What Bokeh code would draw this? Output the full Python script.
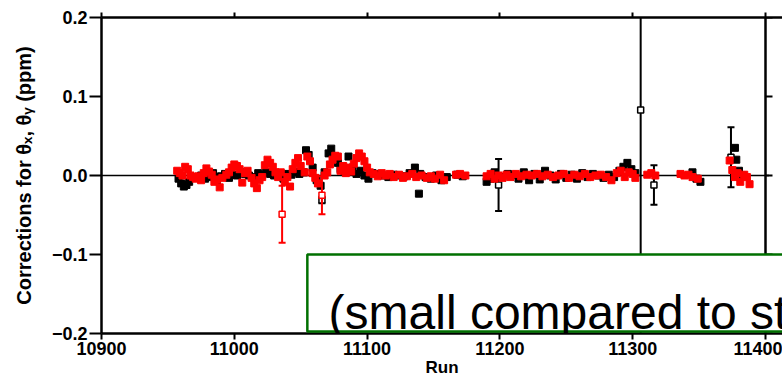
from bokeh.plotting import figure
from bokeh.models import (Range1d, FixedTicker, LinearAxis, CustomJSTickFormatter,
                          BoxAnnotation, Label, Span, ColumnDataSource)
from bokeh.embed import file_html
from bokeh.resources import INLINE

# ---------------- data ----------------
x_ticks = [10900, 11000, 11100, 11200, 11300, 11400]
y_ticks = [-0.2, -0.1, 0.0, 0.1, 0.2]

# theta_x corrections (black)
runs_x = [10958, 10960, 10962, 10964, 10966, 10968, 10971, 10975, 10978, 10981,
          10984, 10987, 10990, 10993, 10996, 10999, 11002, 11005, 11008, 11011,
          11015, 11018, 11021, 11024, 11027, 11030, 11033, 11037, 11040, 11043,
          11046, 11049, 11052, 11054, 11056, 11059, 11062, 11065, 11068, 11071,
          11073, 11075, 11078, 11080, 11083, 11086, 11089, 11092, 11095, 11098,
          11101, 11104, 11108, 11112, 11116, 11120, 11124, 11128, 11132, 11136,
          11139, 11140, 11144, 11148, 11152, 11156, 11160, 11168, 11172, 11190,
          11193, 11196, 11202, 11206, 11210, 11214, 11218, 11222, 11226, 11230,
          11234, 11238, 11242, 11246, 11250, 11254, 11258, 11262, 11266, 11270,
          11274, 11278, 11282, 11286, 11290, 11293, 11296, 11299, 11302, 11345,
          11348, 11351, 11377, 11378, 11380, 11383]
theta_x = [-0.004, -0.010, -0.014, -0.012, -0.008, -0.003, -0.002, 0.000, -0.004, -0.002,
           0.003, -0.006, -0.001, 0.002, -0.003, 0.001, 0.000, 0.004, 0.002, 0.000,
           -0.002, 0.003, 0.001, 0.004, 0.002, 0.000, 0.001, -0.004, 0.002, 0.001,
           0.005, 0.002, 0.004, 0.032, 0.026, 0.010, -0.006, -0.013, 0.004, 0.028,
           0.034, 0.022, 0.016, 0.008, 0.005, 0.024, 0.010, 0.002, 0.006, 0.000,
           -0.004, 0.003, 0.002, 0.000, -0.002, 0.001, 0.000, -0.001, 0.003, 0.010,
           -0.023, 0.002, -0.002, -0.004, 0.000, -0.006, -0.002, 0.001, -0.001, -0.008,
           -0.004, 0.004, -0.002, 0.002, 0.001, -0.004, 0.004, -0.006, 0.002, -0.005,
           0.006, 0.000, -0.005, 0.002, -0.003, 0.001, -0.004, 0.003, -0.002, 0.002,
           0.000, -0.003, 0.001, -0.002, 0.006, 0.011, 0.016, 0.008, 0.003, 0.004,
           -0.004, -0.008, 0.035, 0.020, 0.006, 0.000]
# theta_x points with visible error bars
eb_runs_x = [11066, 11199, 11306, 11316, 11374]
eb_theta_x = [-0.031, -0.012, 0.083, -0.012, 0.023]
eb_err_x = [0.004, 0.033, 0.400, 0.025, 0.038]

# theta_y corrections (red)
runs_y = [10957, 10959, 10961, 10963, 10965, 10967, 10969, 10971, 10973, 10975,
          10977, 10979, 10981, 10983, 10985, 10987, 10989, 10991, 10994, 10996,
          10998, 11000, 11002, 11004, 11006, 11008, 11010, 11013, 11015, 11017,
          11019, 11021, 11023, 11025, 11027, 11029, 11031, 11033, 11035, 11038,
          11040, 11042, 11044, 11046, 11048, 11050, 11053, 11055, 11057, 11059,
          11061, 11063, 11068, 11070, 11072, 11074, 11076, 11078, 11080, 11082,
          11084, 11086, 11088, 11090, 11092, 11094, 11096, 11098, 11100, 11102,
          11105, 11108, 11111, 11114, 11117, 11120, 11124, 11127, 11130, 11134,
          11137, 11141, 11145, 11148, 11151, 11155, 11158, 11167, 11170, 11174,
          11190, 11193, 11196, 11199, 11202, 11205, 11208, 11212, 11216, 11220,
          11224, 11228, 11232, 11236, 11240, 11244, 11248, 11252, 11256, 11260,
          11264, 11268, 11272, 11276, 11280, 11284, 11288, 11291, 11294, 11297,
          11300, 11302, 11311, 11314, 11317, 11336, 11339, 11342, 11345, 11349,
          11373, 11375, 11377, 11379, 11381, 11384, 11386, 11388]
theta_y = [0.006, 0.003, 0.000, 0.011, 0.008, 0.000, -0.002, -0.004, -0.001, -0.006,
           0.003, 0.009, 0.005, 0.001, -0.008, -0.005, -0.015, -0.003, 0.001, 0.004,
           0.010, 0.014, 0.012, 0.008, -0.009, 0.003, 0.006, -0.003, -0.010, -0.016,
           -0.006, -0.002, 0.013, 0.020, 0.016, 0.011, 0.004, -0.002, 0.004, -0.008,
           -0.002, -0.014, 0.008, 0.016, 0.022, 0.012, 0.004, 0.024, 0.018, 0.003,
           -0.003, -0.010, 0.000, 0.004, 0.014, 0.020, 0.025, 0.024, 0.006, 0.012,
           0.003, 0.010, 0.005, 0.015, 0.022, 0.028, 0.024, 0.018, 0.010, 0.004,
           0.002, -0.001, 0.003, 0.000, 0.002, -0.002, 0.001, -0.003, -0.001, 0.002,
           -0.002, 0.000, -0.003, -0.001, -0.004, 0.001, -0.006, 0.001, 0.002, 0.000,
           -0.001, 0.002, -0.004, 0.000, -0.003, 0.001, -0.002, 0.002, -0.001, 0.001,
           0.000, 0.002, -0.001, 0.001, -0.002, 0.000, 0.002, -0.003, 0.001, -0.001,
           0.002, -0.002, 0.000, 0.001, -0.002, -0.006, 0.003, 0.006, -0.002, 0.004,
           0.002, -0.003, 0.001, 0.003, 0.000, 0.002, 0.000, 0.001, -0.002, -0.004,
           0.019, 0.007, -0.002, 0.003, -0.008, 0.001, -0.002, -0.011]
# theta_y points with visible error bars
eb_runs_y = [11036, 11066]
eb_theta_y = [-0.049, -0.025]
eb_err_y = [0.036, 0.024]

x_label = "Run"
y_label = "Corrections for \u03b8\u2093, \u03b8\u1d67 (ppm)"
note_text = "(small compared to statistical errors)"

# ---------------- layout ----------------
W, H = 782, 382
LEFT, TOP, BOTTOM = 101, 17, 49
AXIS_PX = 664                     # pixels between the first and last x tick
frame_w = W - LEFT
px_per_run = AXIS_PX / (x_ticks[-1] - x_ticks[0])
x_end = x_ticks[0] + frame_w / px_per_run   # frame runs to the window edge

p = figure(width=W, height=H, output_backend="svg", toolbar_location=None,
           x_range=Range1d(x_ticks[0], x_end), y_range=Range1d(y_ticks[0], y_ticks[-1]),
           min_border_left=LEFT, min_border_right=0, min_border_top=TOP,
           min_border_bottom=BOTTOM)
p.xgrid.visible = False
p.ygrid.visible = False
p.outline_line_color = None
p.background_fill_color = "white"
p.border_fill_color = "white"

FONT = "Liberation Sans"
yfmt = CustomJSTickFormatter(code="""
if (Math.abs(tick) < 1e-9) { return "0.0"; }
return (tick < 0 ? "\\u2212" : "") + Math.abs(tick).toFixed(1);
""")

xa = p.xaxis[0]
xa.ticker = FixedTicker(ticks=x_ticks)
xa.axis_label = x_label
ya = p.yaxis[0]
ya.ticker = FixedTicker(ticks=y_ticks)
ya.formatter = yfmt
ya.axis_label = y_label

for ax in (xa, ya):
    ax.axis_line_color = "black"
    ax.axis_line_width = 2.5
    ax.major_tick_line_color = "black"
    ax.major_tick_line_width = 2
    ax.major_tick_in = 0
    ax.minor_tick_line_color = None
    ax.major_label_text_font = FONT
    ax.major_label_text_font_style = "bold"
    ax.major_label_text_font_size = "18px"
    ax.major_label_text_color = "black"
    ax.axis_label_text_font = FONT
    ax.axis_label_text_font_style = "bold"
    ax.axis_label_text_font_size = "17px"
    ax.axis_label_text_color = "black"

xa.major_tick_out = 6
xa.major_label_standoff = 2
xa.axis_label_standoff = 0
ya.major_tick_out = 12
ya.major_label_standoff = 2
ya.axis_label_standoff = 14
ya.axis_label_text_font_size = "20px"

# top frame line: ticks only (as minor ticks, so no labels are drawn)
top = LinearAxis(ticker=FixedTicker(ticks=[], minor_ticks=x_ticks))
top.axis_line_color = "black"
top.axis_line_width = 2.5
top.major_tick_line_color = None
top.minor_tick_line_color = "black"
top.minor_tick_line_width = 2
top.minor_tick_in = 0
top.minor_tick_out = 5
top.major_label_standoff = 0
p.add_layout(top, "above")

# right frame line at the last tick, with outward ticks
p.add_layout(Span(location=x_ticks[-1], dimension="height", line_color="black",
                  line_width=2.5))
tick_len = 7 / px_per_run
p.segment(x0=[x_ticks[-1]] * len(y_ticks), y0=y_ticks,
          x1=[x_ticks[-1] + tick_len] * len(y_ticks), y1=y_ticks,
          line_color="black", line_width=2)

# zero line
p.segment(x0=[x_ticks[0]], y0=[0.0], x1=[x_ticks[-1] + tick_len / 2], y1=[0.0],
          line_color="black", line_width=1.5)

src_x = ColumnDataSource(dict(run=runs_x, val=theta_x))
src_y = ColumnDataSource(dict(run=runs_y, val=theta_y))
eb_x = ColumnDataSource(dict(run=eb_runs_x, val=eb_theta_x,
                             lo=[v - e for v, e in zip(eb_theta_x, eb_err_x)],
                             hi=[v + e for v, e in zip(eb_theta_x, eb_err_x)]))
eb_y = ColumnDataSource(dict(run=eb_runs_y, val=eb_theta_y,
                             lo=[v - e for v, e in zip(eb_theta_y, eb_err_y)],
                             hi=[v + e for v, e in zip(eb_theta_y, eb_err_y)]))

MS = 7
# black (theta_x)
p.segment(x0="run", y0="lo", x1="run", y1="hi", source=eb_x, line_color="black", line_width=2)
p.scatter(x="run", y="lo", source=eb_x, marker="dash", size=7, line_color="black", line_width=2)
p.scatter(x="run", y="hi", source=eb_x, marker="dash", size=7, line_color="black", line_width=2)
p.scatter(x="run", y="val", source=src_x, marker="square", size=MS,
          fill_color="black", line_color="black")
p.scatter(x="run", y="val", source=eb_x, marker="square", size=6,
          fill_color="white", line_color="black", line_width=1.5)

# red (theta_y)
p.segment(x0="run", y0="lo", x1="run", y1="hi", source=eb_y, line_color="red", line_width=2)
p.scatter(x="run", y="lo", source=eb_y, marker="dash", size=7, line_color="red", line_width=2)
p.scatter(x="run", y="hi", source=eb_y, marker="dash", size=7, line_color="red", line_width=2)
p.scatter(x="run", y="val", source=src_y, marker="square", size=MS,
          fill_color="red", line_color="red")
p.scatter(x="run", y="val", source=eb_y, marker="square", size=6,
          fill_color="white", line_color="red", line_width=1.5)

# note box (overlays the chart, runs off the right edge)
p.add_layout(BoxAnnotation(left=11055, right=x_end + 20, top=-0.1, bottom=-0.1975,
                           fill_color="white", fill_alpha=1.0,
                           line_color="#007000", line_width=2.5, line_alpha=1.0))
p.add_layout(Label(x=11071, y=-0.1734, text=note_text, text_font=FONT,
                   text_font_size="48px", text_color="black",
                   text_baseline="alphabetic"))

open("out.html", "w").write(file_html(p, INLINE))
